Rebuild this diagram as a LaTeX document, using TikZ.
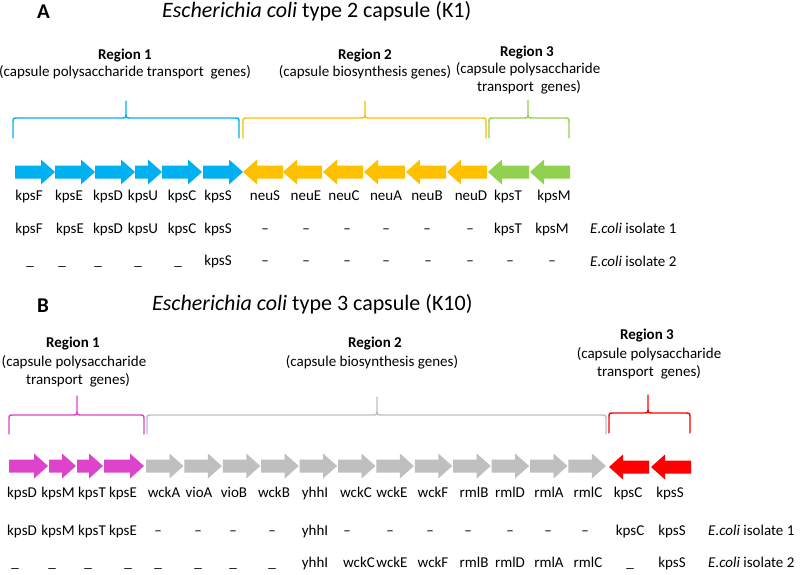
\documentclass[tikz,border=0pt]{standalone}
\usepackage{fontspec}
\setmainfont{Carlito}
\definecolor{cblue}{HTML}{00B0F0}
\definecolor{cyellow}{HTML}{FFC000}
\definecolor{cgreen}{HTML}{92D050}
\definecolor{cmag}{RGB}{221,68,204}
\definecolor{cgray}{HTML}{BFBFBF}
\definecolor{cred}{HTML}{FF0000}
\newcommand{\rgene}[4]{\fill[#4] (#1,{#3-6.5}) -- ({#2-14},{#3-6.5}) -- ({#2-14},{#3-12.5}) -- (#2,#3) -- ({#2-14},{#3+12.5}) -- ({#2-14},{#3+6.5}) -- (#1,{#3+6.5}) -- cycle;}
\newcommand{\lgene}[4]{\fill[#4] (#2,{#3-6.5}) -- ({#1+14},{#3-6.5}) -- ({#1+14},{#3-12.5}) -- (#1,#3) -- ({#1+14},{#3+12.5}) -- ({#1+14},{#3+6.5}) -- (#2,{#3+6.5}) -- cycle;}
% x1 xm x2 ytop ybot ypeak colour
\newcommand{\regbrace}[7]{\draw[brace,#7] (#1,#5) -- (#1,{#4+5}) .. controls (#1,#4) .. ({#1+5},#4) -- ({#2-5},#4) .. controls (#2,#4) .. (#2,{#4-5}) -- (#2,#6) -- (#2,{#4-5}) .. controls (#2,#4) .. ({#2+5},#4) -- ({#3-5},#4) .. controls (#3,#4) .. (#3,{#4+5}) -- (#3,#5);}
\newcommand{\dsh}{\textendash}
\newcommand{\usc}{\_}
\begin{document}
\begin{tikzpicture}[x=1pt,y=-1pt,
  gene/.style={anchor=base,inner sep=0pt,font=\fontsize{15}{18}\selectfont},
  regt/.style={anchor=base,inner sep=0pt,font=\fontsize{15}{18}\selectfont},
  regb/.style={anchor=base,inner sep=0pt,font=\fontsize{15}{18}\selectfont\bfseries},
  ttl/.style={anchor=base west,inner sep=0pt,font=\fontsize{22}{26}\selectfont},
  panel/.style={anchor=base west,inner sep=0pt,font=\fontsize{21}{25}\selectfont\bfseries},
  iso/.style={anchor=base west,inner sep=0pt,font=\fontsize{15}{18}\selectfont},
  brace/.style={line width=1.4pt,line cap=round,line join=round}]
\useasboundingbox (0,0) rectangle (800,575);
\fill[white] (0,0) rectangle (800,575);

% ---------------- Panel A ----------------
\node[panel] (pA) at (37,19) {A};
\node[ttl] (tA) at (162,18) {\textit{Escherichia coli} type 2 capsule (K1)};

\node[regb] (aR1) at (125,60) {Region 1};
\node[regt] (aR1a) at (125,77) {(capsule polysaccharide transport~ genes)};
\node[regb] (aR2) at (365,60) {Region 2};
\node[regt] (aR2a) at (365,77) {(capsule biosynthesis genes)};
\node[regb] (aR3) at (527,57) {Region 3};
\node[regt] (aR3a) at (528,74) {(capsule polysaccharide};
\node[regt] (aR3b) at (529,92) {transport~ genes)};

\regbrace{13}{126}{239}{118}{138}{101}{cblue}
\regbrace{243}{365}{486}{118}{138}{101}{cyellow}
\regbrace{489}{528}{569}{118}{138}{100}{cgreen}

\rgene{15}{55}{172}{cblue}
\rgene{55}{95}{172}{cblue}
\rgene{95}{135}{172}{cblue}
\rgene{135}{162}{172}{cblue}
\rgene{162}{202}{172}{cblue}
\rgene{203}{243}{172}{cblue}
\lgene{243}{283}{172}{cyellow}
\lgene{283}{322}{172}{cyellow}
\lgene{323}{363}{172}{cyellow}
\lgene{364}{405}{172}{cyellow}
\lgene{406}{446}{172}{cyellow}
\lgene{447}{487}{172}{cyellow}
\lgene{488}{529}{172}{cgreen}
\lgene{530}{570}{172}{cgreen}

\foreach \t/\x [count=\i] in {kpsF/29,kpsE/69,kpsD/108,kpsU/143,kpsC/182,kpsS/218,neuS/265,neuE/306,neuC/344,neuA/386,neuB/427,neuD/471,kpsT/508,kpsM/554}
  {\node[gene] (aG\i) at (\x,200) {\t};}
\foreach \t/\x [count=\i] in {kpsF/29,kpsE/70,kpsD/108,kpsU/143,kpsC/182,kpsS/218,\dsh/265,\dsh/306,\dsh/347,\dsh/386,\dsh/427,\dsh/470,kpsT/508,kpsM/552}
  {\node[gene] (aI\i) at (\x,233) {\t};}
\foreach \t/\x [count=\i] in {\usc/30,\usc/62,\usc/98,\usc/138,\usc/178,kpsS/218,\dsh/265,\dsh/306,\dsh/347,\dsh/386,\dsh/428,\dsh/470,\dsh/510,\dsh/552}
  {\node[gene] (aJ\i) at (\x,265) {\t};}
\node[iso] (aIso1) at (590,233) {\textit{E.coli} isolate 1};
\node[iso] (aIso2) at (590,266) {\textit{E.coli} isolate 2};

% ---------------- Panel B ----------------
\node[panel] (pB) at (37,312) {B};
\node[ttl] (tB) at (152,310) {\textit{Escherichia coli} type 3 capsule (K10)};

\node[regb] (bR1) at (73,347) {Region 1};
\node[regt] (bR1a) at (74,366) {(capsule polysaccharide};
\node[regt] (bR1b) at (78,384) {transport~ genes)};
\node[regb] (bR2) at (375,347) {Region 2};
\node[regt] (bR2a) at (372,366) {(capsule biosynthesis genes)};
\node[regb] (bR3) at (647,339) {Region 3};
\node[regt] (bR3a) at (649,358) {(capsule polysaccharide};
\node[regt] (bR3b) at (649,376) {transport~ genes)};

\regbrace{9}{77}{144}{415}{434}{396}{cmag}
\regbrace{147}{377}{606}{415}{434}{397}{cgray}
\regbrace{609}{648}{690}{413}{433}{395}{cred}

\rgene{9}{48}{466}{cmag}
\rgene{49}{76}{466}{cmag}
\rgene{77}{103}{466}{cmag}
\rgene{104}{144}{466}{cmag}
\foreach \k in {0,...,11}{
  \pgfmathsetmacro{\ga}{146+38.4*\k}
  \pgfmathsetmacro{\gb}{183.5+38.4*\k}
  \rgene{\ga}{\gb}{466}{cgray}
}
\lgene{609}{649}{467}{cred}
\lgene{651}{691}{467}{cred}

\foreach \t/\x [count=\i] in {kpsD/22,kpsM/58,kpsT/92,kpsE/123,wckA/164,vioA/199,vioB/234,wckB/274,yhhI/315,wckC/356,wckE/392,wckF/433,rmlB/474,rmlD/510,rmlA/549,rmlC/588,kpsC/628,kpsS/670}
  {\node[gene] (bG\i) at (\x,497) {\t};}
\foreach \t/\x [count=\i] in {kpsD/22,kpsM/58,kpsT/92,kpsE/123,\dsh/158,\dsh/198,\dsh/233,\dsh/272,yhhI/315,\dsh/347,\dsh/390,\dsh/430,\dsh/468,\dsh/510,\dsh/548,\dsh/585,kpsC/630,kpsS/672}
  {\node[gene] (bI\i) at (\x,535) {\t};}
\foreach \t/\x [count=\i] in {\usc/15,\usc/52,\usc/88,\usc/128,\usc/158,\usc/198,\usc/233,\usc/272,yhhI/315,wckC/359,wckE/392,wckF/433,rmlB/474,rmlD/510,rmlA/549,rmlC/588,\usc/630,kpsS/672}
  {\node[gene] (bJ\i) at (\x,567) {\t};}
\node[iso] (bIso1) at (708,535) {\textit{E.coli} isolate 1};
\node[iso] (bIso2) at (708,567) {\textit{E.coli} isolate 2};
\end{tikzpicture}
\end{document}
